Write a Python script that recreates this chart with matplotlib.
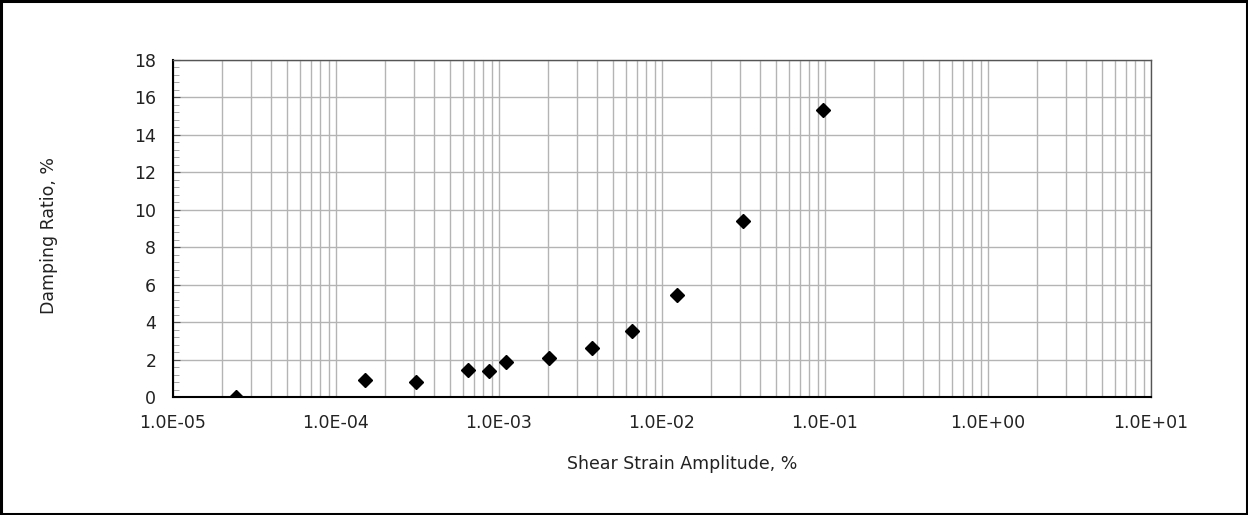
import matplotlib
import matplotlib.pyplot as plt
from matplotlib.patches import Rectangle
from matplotlib.ticker import LogLocator, MultipleLocator, FixedLocator, NullFormatter

matplotlib.use('Agg')
plt.rcParams['font.family'] = ['DejaVu Sans']

# Damping ratio vs shear strain amplitude
strain = [2.44e-5, 1.51e-4, 3.11e-4, 6.49e-4, 8.69e-4, 1.11e-3,
          2.03e-3, 3.73e-3, 6.58e-3, 1.24e-2, 3.16e-2, 9.68e-2]
damping = [0.03, 0.91, 0.83, 1.46, 1.42, 1.87,
           2.08, 2.65, 3.56, 5.48, 9.41, 15.32]
x_ticks = [1e-5, 1e-4, 1e-3, 1e-2, 1e-1, 1e0, 1e1]
x_labels = ['1.0E-05', '1.0E-04', '1.0E-03', '1.0E-02',
            '1.0E-01', '1.0E+00', '1.0E+01']
y_ticks = list(range(0, 19, 2))

fig = plt.figure(figsize=(12.48, 5.15), dpi=100)
fig.patch.set_facecolor('white')
# Outer frame around the whole chart
fig.add_artist(Rectangle((0.0012, 0.002), 0.9976, 0.996,
                         transform=fig.transFigure, fill=False,
                         edgecolor='black', linewidth=2.2))

ax = fig.add_axes([0.1386, 0.2285, 0.7837, 0.655])
ax.set_xscale('log')
ax.set_xlim(1e-5, 1e1)
ax.set_ylim(0, 18)

ax.plot(strain, damping, linestyle='none', marker='D',
        markersize=7.2, color='black', zorder=5)

ax.set_xticks(x_ticks)
ax.set_xticklabels(x_labels)
ax.xaxis.set_minor_locator(LogLocator(base=10, subs=range(2, 10)))
ax.xaxis.set_minor_formatter(NullFormatter())
ax.yaxis.set_major_locator(FixedLocator(y_ticks))
ax.yaxis.set_minor_locator(MultipleLocator(0.4))

ax.grid(True, which='major', axis='both', color='#b4b4b4', linewidth=1.0)
ax.grid(True, which='minor', axis='x', color='#b4b4b4', linewidth=1.0)
ax.set_axisbelow(True)

ax.tick_params(axis='x', which='both', length=0, labelsize=12.5,
               pad=12, colors='#222222')
ax.tick_params(axis='y', which='major', direction='in', length=5,
               labelsize=12.5, pad=12, color='#555555',
               labelcolor='#222222')
ax.tick_params(axis='y', which='minor', direction='in', length=4,
               color='#999999')

for side in ['top', 'right']:
    ax.spines[side].set_color('#555555')
    ax.spines[side].set_linewidth(1.0)
for side in ['left', 'bottom']:
    ax.spines[side].set_color('black')
    ax.spines[side].set_linewidth(1.5)

ax.set_xlabel('Shear Strain Amplitude, %', fontsize=12.5, color='#222222')
ax.xaxis.set_label_coords(0.521, -0.17)
ax.set_ylabel('Damping Ratio, %', fontsize=12.5, color='#222222')
ax.yaxis.set_label_coords(-0.118, 0.48)

fig.savefig('out.png', dpi=100, facecolor='white')
